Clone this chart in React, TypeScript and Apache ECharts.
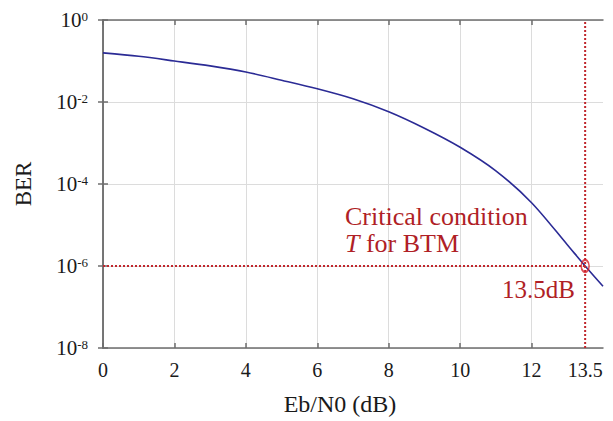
import React, { useEffect, useRef } from 'react';
import * as echarts from 'echarts';

const xValues = [0, 1, 2, 3, 4, 5, 6, 7, 8, 9, 10, 11, 12, 13, 13.5, 14];
const berValues = [0.158, 0.13, 0.1, 0.076, 0.054, 0.034, 0.021, 0.012, 0.0058, 0.0023, 7.9e-4, 2.1e-4, 3.5e-5, 3.3e-6, 1e-6, 3.2e-7];
const xTickValues = [0, 2, 4, 6, 8, 10, 12];
const xTickLabels = [0, 2, 4, 6, 8, 10, 12, 13.5];
const criticalX = 13.5;
const criticalBer = 1e-6;
const yMin = 1e-8;
const yMax = 1;
const hLine = [[0, criticalBer], [criticalX, criticalBer]];
const vLine = [[criticalX, yMin], [criticalX, yMax]];

export default function App() {
  const ref = useRef<HTMLDivElement>(null);
  useEffect(() => {
    document.body.style.margin = '0';
    const chart = echarts.init(ref.current!, null, { renderer: 'svg' });
    const font = 'Liberation Serif';
    const axisLineStyle = { color: '#6e6e6e', width: 1.5 };
    const red = '#c0272d';
    const textRed = '#b01f26';
    const supFormatter = (v: number) => {
      const e = Math.round(Math.log10(v));
      return `{b|10}{s|${e}}`;
    };
    const yRich = {
      b: { fontSize: 21, fontFamily: font, color: '#1a1a1a' },
      s: { fontSize: 13, fontFamily: font, color: '#1a1a1a', verticalAlign: 'top' },
    };
    const annoStyle = { fontFamily: font, fontSize: 26, fontWeight: 'normal', color: textRed, lineHeight: 26 };
    chart.setOption({
      animation: false,
      title: [
        { text: 'Critical condition', left: 345, top: 203, padding: 0, textStyle: annoStyle },
        {
          text: '{i|T} for BTM', left: 345, top: 230, padding: 0,
          textStyle: { ...annoStyle, rich: { i: { ...annoStyle, fontStyle: 'italic' } } },
        },
        { text: '13.5dB', left: 502, top: 277, padding: 0, textStyle: { ...annoStyle, fontSize: 25, lineHeight: 25 } },
      ],
      grid: { left: 103, right: 10, top: 20, bottom: 68 },
      xAxis: [
        {
          type: 'value', min: 0, max: 14, interval: 2, position: 'bottom',
          name: 'Eb/N0 (dB)', nameLocation: 'middle', nameGap: 44,
          nameTextStyle: { fontFamily: font, fontSize: 24, color: '#1a1a1a', padding: [0, 26, 0, 0] },
          axisLine: { show: true, lineStyle: axisLineStyle },
          axisTick: { show: true, inside: true, length: 5, lineStyle: axisLineStyle, customValues: xTickValues },
          axisLabel: {
            customValues: xTickLabels, fontFamily: font, fontSize: 20, color: '#1a1a1a', margin: 12,
            formatter: (v: number) => String(v),
          },
          splitLine: { show: true, lineStyle: { color: '#dcdcdc', width: 1 } },
        },
        {
          type: 'value', min: 0, max: 14, interval: 2, position: 'top',
          axisLine: { show: true, lineStyle: axisLineStyle },
          axisTick: { show: true, inside: true, length: 5, lineStyle: axisLineStyle, customValues: xTickValues },
          axisLabel: { show: false },
          splitLine: { show: false },
        },
      ],
      yAxis: [
        {
          type: 'log', logBase: 10, min: yMin, max: yMax, interval: 2, position: 'left',
          name: 'BER', nameLocation: 'middle', nameGap: 68,
          nameTextStyle: { fontFamily: font, fontSize: 23, color: '#1a1a1a' },
          axisLine: { show: true, lineStyle: axisLineStyle },
          axisTick: { show: true, inside: true, length: 5, lineStyle: axisLineStyle },
          axisLabel: { formatter: supFormatter, rich: yRich, margin: 15 },
          splitLine: { show: true, lineStyle: { color: '#dcdcdc', width: 1 } },
          minorTick: { show: false },
        },
        {
          type: 'log', logBase: 10, min: yMin, max: yMax, interval: 2, position: 'right',
          axisLine: { show: true, lineStyle: axisLineStyle },
          axisTick: { show: true, inside: true, length: 5, lineStyle: axisLineStyle },
          axisLabel: { show: false },
          splitLine: { show: false },
        },
      ],
      series: [
        {
          type: 'line', xAxisIndex: 0, yAxisIndex: 0,
          data: xValues.map((x, i) => [x, berValues[i]]),
          showSymbol: false, smooth: 0.3,
          lineStyle: { color: '#2b2b95', width: 1.6 },
          z: 2,
        },
        {
          type: 'line', xAxisIndex: 0, yAxisIndex: 0, data: hLine, showSymbol: false,
          lineStyle: { color: red, width: 2, type: [2, 2] }, z: 3,
        },
        {
          type: 'line', xAxisIndex: 0, yAxisIndex: 0, data: vLine, showSymbol: false,
          lineStyle: { color: red, width: 2, type: [2, 2] }, z: 3,
        },
        {
          type: 'scatter', xAxisIndex: 0, yAxisIndex: 0,
          data: [[criticalX, criticalBer]],
          symbol: 'circle', symbolSize: [8, 12],
          itemStyle: { color: 'rgba(0,0,0,0)', borderColor: '#d4202a', borderWidth: 1.8 },
          z: 4,
        },
      ],
    });
    return () => chart.dispose();
  }, []);
  return <div ref={ref} style={{ width: 613, height: 421 }} />;
}
